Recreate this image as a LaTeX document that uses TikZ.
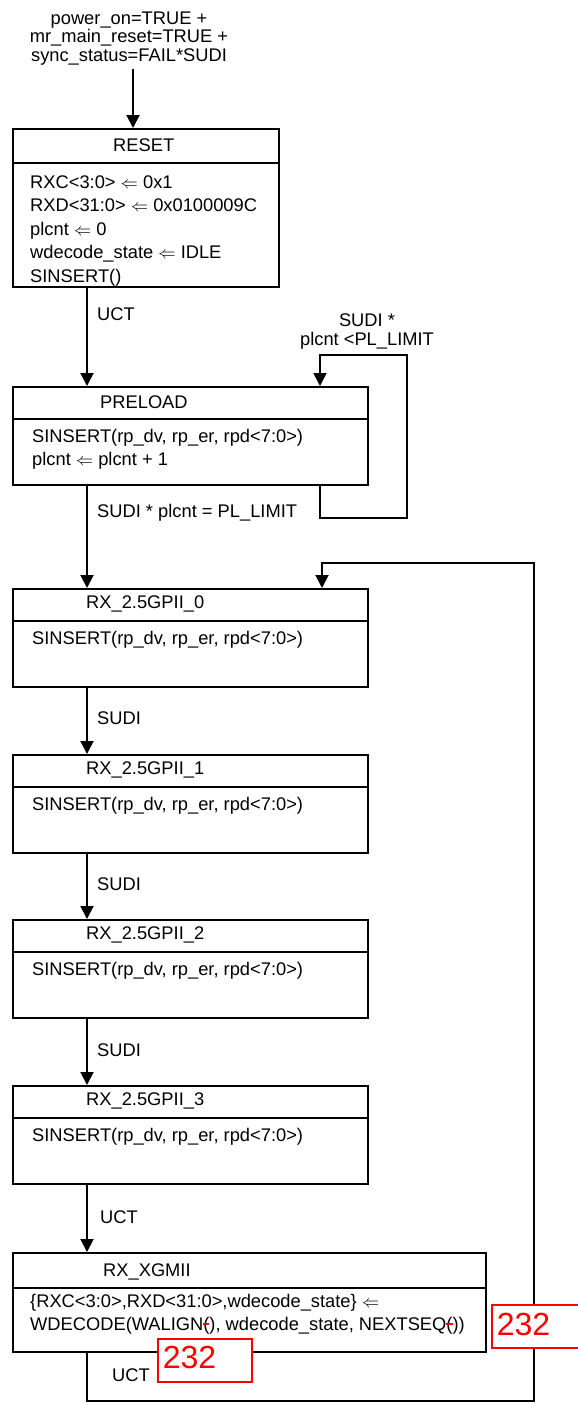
\documentclass[tikz,border=0pt]{standalone}
\usepackage{fontspec}
\setmainfont{Liberation Sans}
\usetikzlibrary{arrows.meta}
\newcommand\rstk[1]{\setbox0=\hbox{#1}\rlap{\copy0}{\color{red}\rule[0.3em]{\wd0}{1.3pt}}}
\begin{document}
\begin{tikzpicture}[x=1pt,y=-1pt,
  font=\fontsize{18.3}{18.3}\selectfont,
  box/.style={draw, line width=1.9pt, rectangle, anchor=north west, inner sep=0},
  txt/.style={anchor=base west, inner sep=0},
  ln/.style={line width=1.9pt},
  arr/.style={line width=1.9pt, -{Triangle[width=13pt,length=13pt]}},
  redbox/.style={draw=red, fill=white, line width=1.7pt, text=red, font=\fontsize{32}{32}\selectfont,
    anchor=north west, align=left, inner ysep=0, inner xsep=5pt, minimum height=43pt,
    text height=23pt}]
\useasboundingbox (0,0) rectangle (578,1403);
\clip (0,0) rectangle (578,1403);
\fill[white] (0,0) rectangle (578,1403);
% helper x positions
\coordinate (c87) at (87,0);
\coordinate (c133) at (133,0);
\coordinate (c320) at (320,0);
\coordinate (c322) at (322,0);
\coordinate (plA) at (407,518);
\coordinate (plB) at (407,355);
\coordinate (bgA) at (534,1401);
\coordinate (bgB) at (534,563);

% start condition
\node[align=center, anchor=south, inner sep=0, outer sep=4pt] (start) at (129,69)
  {power\_on=TRUE +\\mr\_main\_reset=TRUE +\\sync\_status=FAIL*SUDI};

% RESET
\node[box, minimum width=266pt, minimum height=158pt] (reset) at (12,128) {};
\draw[ln] (12,163) -- (278,163);
\node[txt] (resetT) at (113,151) {RESET};
\node[txt] (r1) at (30,188) {RXC<3:0> $\Leftarrow$ 0x1};
\node[txt] (r2) at (30,211.5) {RXD<31:0> $\Leftarrow$ 0x0100009C};
\node[txt] (r3) at (30,235) {plcnt $\Leftarrow$ 0};
\node[txt] (r4) at (30,258.5) {wdecode\_state $\Leftarrow$ IDLE};
\node[txt] (r5) at (30,282) {SINSERT()};

% PRELOAD
\node[box, minimum width=355pt, minimum height=98pt] (preload) at (12,386) {};
\draw[ln] (12,419) -- (367,419);
\node[txt] (preT) at (100,408) {PRELOAD};
\node[txt] (p1) at (32,442) {SINSERT(rp\_dv, rp\_er, rpd<7:0>)};
\node[txt] (p2) at (32,465) {plcnt $\Leftarrow$ plcnt + 1};

% RX_2.5GPII boxes
\foreach \n/\t in {0/588,1/754,2/919,3/1085}{
  \node[box, minimum width=355pt, minimum height=98pt] (rx\n) at (12,\t) {};
  \draw[ln] (12,\t+33) -- (367,\t+33);
  \node[txt] (rx\n T) at (86,\t+20) {RX\_2.5GPII\_\n};
  \node[txt] (rx\n B) at (32,\t+56) {SINSERT(rp\_dv, rp\_er, rpd<7:0>)};
}

% RX_XGMII
\node[box, minimum width=473pt, minimum height=99pt] (xgmii) at (12,1252) {};
\draw[ln] (12,1288) -- (486,1288);
\node[txt] (xgT) at (103,1276) {RX\_XGMII};
\node[txt] (x1) at (30,1307) {\{RXC<3:0>,RXD<31:0>,wdecode\_state\} $\Leftarrow$};
\node[txt] (x2) at (30,1330) {WDECODE(WALIGN\rstk{(}), wdecode\_state, NEXTSEQ\rstk{(}))};

% connectors
\draw[arr] (start.south -| c133) -- (reset.north -| c133);
\draw[arr] (reset.south -| c87) -- (preload.north -| c87);
\node[txt] (lUCT1) at (97,320) {UCT};
\draw[arr] (preload.south -| c320) |- (plA) -- (plB) -| (preload.north -| c320);
\node[align=center, anchor=south, inner sep=0] (lloop) at (367,349) {SUDI *\\plcnt <PL\_LIMIT};
\draw[arr] (preload.south -| c87) -- (rx0.north -| c87);
\node[txt] (lpl) at (97,517) {SUDI * plcnt = PL\_LIMIT};
\draw[arr] (rx0.south -| c87) -- (rx1.north -| c87);
\node[txt] (ls1) at (97,724) {SUDI};
\draw[arr] (rx1.south -| c87) -- (rx2.north -| c87);
\node[txt] (ls2) at (97,890) {SUDI};
\draw[arr] (rx2.south -| c87) -- (rx3.north -| c87);
\node[txt] (ls3) at (97,1056) {SUDI};
\draw[arr] (rx3.south -| c87) -- (xgmii.north -| c87);
\node[txt] (lUCT2) at (100,1223) {UCT};
\draw[arr] (xgmii.south -| c87) |- (bgA) -- (bgB) -| (rx0.north -| c322);
\node[txt] (lUCT3) at (112,1381) {UCT};

% red annotation boxes
\node[redbox, text width=90pt, text depth=4pt] (red1) at (491,1304) {232};
\node[redbox, text width=84pt, text depth=7pt] (red2) at (157,1338) {232};
\end{tikzpicture}
\end{document}
